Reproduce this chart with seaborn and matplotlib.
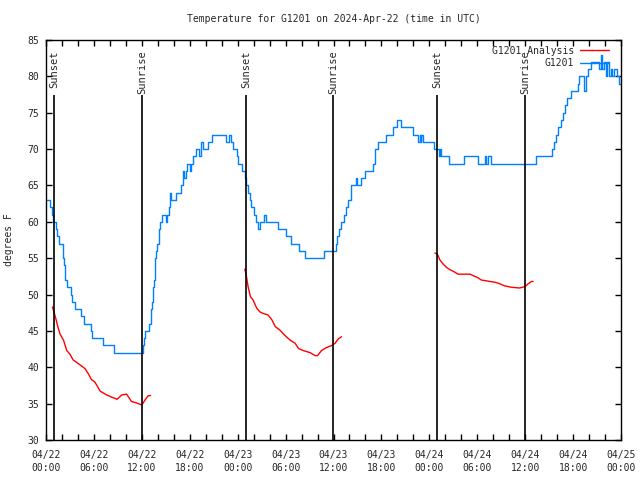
import numpy as np
import pandas as pd
import matplotlib
matplotlib.use("Agg")
import matplotlib.pyplot as plt
import matplotlib.dates as mdates
import seaborn as sns

# observed temperature (hours since 2024-04-22 00:00 UTC, deg F)
obs_hours = [0.0, 0.5, 0.8, 0.9, 1.2, 1.4, 1.6, 2.1, 2.2, 2.4, 2.6, 3.1, 3.3, 3.6, 4.4, 4.8, 5.6, 5.8, 7.1, 8.5,
             12.1, 12.25, 12.4, 12.9, 13.1, 13.2, 13.3, 13.4, 13.5, 13.6, 13.7, 13.8, 13.9, 14.1, 14.2, 14.3, 14.5,
             15.0, 15.2, 15.4, 15.5, 15.7, 16.3, 16.9, 17.1, 17.3, 17.5, 17.7, 18.0, 18.2, 18.4, 18.8, 19.2, 19.4,
             19.7, 20.3, 20.8, 22.5, 22.9, 23.2, 23.4, 23.9, 24.1,
             24.6, 24.9, 25.1, 25.3, 25.5, 25.7, 26.1, 26.3, 26.6, 26.8, 27.3, 27.5, 29.1, 30.0, 30.7, 31.7, 32.4,
             34.8, 36.3, 36.5, 36.7, 36.9, 37.3, 37.6, 37.8, 38.2, 38.8, 39.0, 39.4, 39.9, 40.9, 41.2, 41.6, 42.6,
             43.4, 44.0, 44.5, 45.9, 46.6, 46.8, 46.9, 47.0, 47.2,
             48.6, 49.2, 49.3, 49.4, 50.5, 52.4, 54.1, 55.0, 55.1, 55.3, 55.7, 61.3, 63.4, 63.6, 63.9, 64.1, 64.5,
             64.7, 65.0, 65.3, 65.8, 66.6, 66.8, 67.4, 67.6, 67.9, 68.2, 69.3, 69.5, 69.6, 69.9, 70.1, 70.3, 70.5,
             70.7, 70.9, 71.1, 71.5, 71.7, 72.0]
obs_temp = [63, 62, 61, 60, 59, 58, 57, 55, 54, 52, 51, 50, 49, 48, 47, 46, 45, 44, 43, 42,
            43, 44, 45, 46, 47, 48, 49, 51, 52, 54, 55, 56, 57, 58, 59, 60, 61,
            60, 61, 62, 64, 63, 64, 65, 67, 66, 67, 68, 67, 68, 69, 70, 69, 71,
            70, 71, 72, 71, 72, 71, 70, 69, 68,
            67, 66, 65, 64, 63, 62, 61, 60, 59, 60, 61, 60, 59, 58, 57, 56, 55,
            56, 57, 58, 59, 60, 61, 62, 63, 65, 66, 65, 66, 67, 68, 70, 71, 72,
            73, 74, 73, 72, 71, 72, 71, 72, 71,
            70, 69, 70, 69, 68, 69, 68, 69, 68, 69, 68, 69, 70, 71, 72, 73, 74,
            75, 76, 77, 78, 79, 80, 78, 80, 81, 82, 81, 83, 81, 82, 80, 82, 80,
            81, 80, 81, 80, 79, 79]

# analysis temperature, one run per night
ana_hours = [
    [0.8, 1.0, 1.3, 1.5, 1.75, 2.2, 2.6, 3.0, 3.4, 3.8, 4.3, 4.9, 5.3, 5.7, 6.1, 6.8, 7.6, 8.2, 8.9, 9.5,
     10.1, 10.7, 11.35, 12.0, 12.4, 12.8, 13.1],
    [24.9, 25.1, 25.3, 25.6, 25.9, 26.4, 26.8, 27.2, 27.8, 28.3, 28.7, 29.3, 29.9, 30.6, 31.2, 31.6, 32.2,
     33.1, 33.7, 34.0, 34.5, 35.1, 35.8, 36.2, 36.6, 37.0],
    [48.7, 49.0, 49.3, 49.8, 50.2, 50.6, 51.0, 51.6, 53.1, 53.5, 54.1, 54.5, 55.6, 56.2, 56.8, 57.4, 58.3,
     59.3, 60.0, 60.4, 60.8, 61.0],
]
ana_temp = [
    [48.3, 47.6, 46.4, 45.5, 44.6, 43.7, 42.3, 41.8, 41.0, 40.7, 40.3, 39.8, 39.1, 38.3, 38.0, 36.7, 36.2,
     35.9, 35.6, 36.2, 36.3, 35.3, 35.1, 34.8, 35.5, 36.1, 36.1],
    [53.5, 52.5, 51.1, 49.7, 49.3, 48.1, 47.6, 47.4, 47.2, 46.5, 45.6, 45.1, 44.4, 43.7, 43.3, 42.6, 42.3,
     42.0, 41.6, 41.6, 42.3, 42.7, 43.0, 43.3, 43.9, 44.2],
    [55.7, 55.6, 54.8, 54.1, 53.7, 53.4, 53.2, 52.8, 52.8, 52.6, 52.3, 52.0, 51.8, 51.7, 51.5, 51.2, 51.0,
     50.9, 51.1, 51.5, 51.8, 51.8],
]

sun_hours = [1.04, 12.06, 25.08, 35.98, 49.0, 59.97]
sun_labels = ["Sunset", "Sunrise", "Sunset", "Sunrise", "Sunset", "Sunrise"]

start = pd.Timestamp("2024-04-22 00:00")


def to_time(h):
    return start + pd.to_timedelta(np.asarray(h), unit="h")


sns.set_style("ticks")
plt.rcParams["font.family"] = ["DejaVu Sans Mono"]
plt.rcParams["font.size"] = 7

fig = plt.figure(figsize=(6.4, 4.8), dpi=100)
ax = fig.add_axes([46 / 640, 40 / 480, 575 / 640, 400 / 480])

for i in range(len(ana_hours)):
    sns.lineplot(x=to_time(ana_hours[i]), y=ana_temp[i], color="#ff0000", lw=1.0,
                 label="G1201 Analysis" if i == 0 else None, ax=ax, legend=False)

sns.lineplot(x=to_time(obs_hours), y=obs_temp, color="#0080ff", lw=1.0,
             drawstyle="steps-post", label="G1201", ax=ax, legend=False)

for h, lab in zip(sun_hours, sun_labels):
    t = to_time(h)
    ax.vlines(t, 30, 77.4, color="black", lw=1.2)
    ax.text(t, 83.6, lab, rotation=90, ha="center", va="top", fontsize=7.5)

ax.set_xlim(start, start + pd.Timedelta(hours=72))
ax.set_ylim(30, 85)
ax.set_yticks(np.arange(30, 86, 5))
ax.xaxis.set_major_locator(mdates.HourLocator(byhour=[0, 6, 12, 18]))
ax.xaxis.set_minor_locator(mdates.HourLocator(byhour=range(0, 24, 2)))
ax.xaxis.set_major_formatter(mdates.DateFormatter("%m/%d\n%H:%M"))
ax.tick_params(axis="both", which="both", direction="in", top=True, right=True,
               color="black", width=1, labelsize=7)
ax.tick_params(axis="x", which="both", length=4, pad=7)
ax.tick_params(axis="y", which="major", length=4, pad=5)
for s in ax.spines.values():
    s.set_color("black")
    s.set_linewidth(1)

ax.set_xlabel("")
ax.set_ylabel("degrees F", fontsize=7)
ax.yaxis.set_label_coords(-0.056, 0.5)

fig.text(333.5 / 640, 1 - 19 / 480, "Temperature for G1201 on 2024-Apr-22 (time in UTC)",
         ha="center", va="center", fontsize=7)

h, l = ax.get_legend_handles_labels()
ax.legend(h, l, loc="upper right", bbox_to_anchor=(1 - 6 / 575, 1.0), frameon=False,
          markerfirst=False, handlelength=3.0, labelspacing=0.25, borderaxespad=0.2,
          handletextpad=0.6, fontsize=7)

for lbl in ax.get_xticklabels():
    lbl.set_linespacing(1.35)

fig.savefig("out.png", dpi=100)
